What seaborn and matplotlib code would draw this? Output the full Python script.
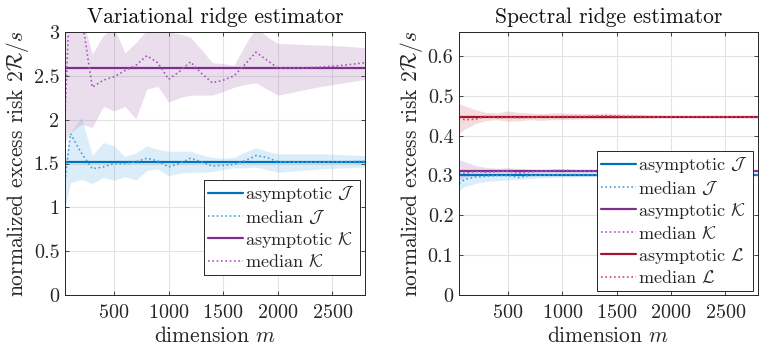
import numpy as np
import pandas as pd
import seaborn as sns
import matplotlib.pyplot as plt

# dimension grid
m = [50, 100, 200, 300, 400, 500, 600, 700, 800, 900, 1000, 1100, 1200, 1300, 1400,
     1500, 1600, 1700, 1800, 1900, 2000, 2200, 2400, 2600, 2800]

# ---- variational ridge estimator ----
var_asym_J = 1.515
var_asym_K = 2.59
var_med_J = [1.30, 1.84, 1.62, 1.44, 1.46, 1.50, 1.50, 1.52, 1.56, 1.53, 1.46, 1.50, 1.56, 1.52, 1.47,
             1.48, 1.49, 1.53, 1.59, 1.57, 1.52, 1.515, 1.515, 1.52, 1.525]
var_lo_J = [1.00, 1.28, 1.32, 1.27, 1.34, 1.31, 1.35, 1.31, 1.42, 1.44, 1.36, 1.39, 1.40, 1.40, 1.41,
            1.43, 1.45, 1.45, 1.46, 1.43, 1.40, 1.42, 1.44, 1.45, 1.46]
var_hi_J = [1.55, 1.85, 2.03, 1.59, 1.74, 1.70, 1.58, 1.62, 1.70, 1.66, 1.64, 1.64, 1.64, 1.60, 1.57,
            1.56, 1.57, 1.63, 1.68, 1.64, 1.61, 1.61, 1.61, 1.60, 1.59]
var_med_K = [2.05, 3.60, 3.20, 2.37, 2.45, 2.49, 2.56, 2.62, 2.73, 2.65, 2.46, 2.55, 2.66, 2.53, 2.42,
             2.45, 2.50, 2.63, 2.77, 2.68, 2.59, 2.59, 2.60, 2.62, 2.65]
var_lo_K = [1.75, 1.85, 1.95, 1.91, 2.15, 2.10, 2.15, 2.01, 2.35, 2.38, 2.20, 2.25, 2.28, 2.28, 2.28,
            2.32, 2.37, 2.40, 2.42, 2.35, 2.28, 2.33, 2.38, 2.42, 2.46]
var_hi_K = [3.40, 3.30, 3.20, 2.75, 2.96, 3.05, 2.76, 2.88, 3.02, 3.00, 3.00, 2.98, 2.94, 2.80, 2.65,
            2.64, 2.62, 2.85, 3.05, 2.95, 2.87, 2.86, 2.85, 2.84, 2.82]

# ---- spectral ridge estimator ----
spe_asym_J = 0.302
spe_asym_K = 0.311
spe_asym_L = 0.447
spe_med_J = [0.280, 0.290, 0.296, 0.298, 0.300, 0.300, 0.295, 0.300, 0.301, 0.301, 0.302, 0.302, 0.302, 0.302, 0.302,
             0.302, 0.302, 0.302, 0.302, 0.302, 0.302, 0.302, 0.302, 0.302, 0.302]
spe_lo_J = [0.262, 0.272, 0.280, 0.285, 0.287, 0.289, 0.290, 0.292, 0.294, 0.295, 0.296, 0.296, 0.297, 0.297, 0.297,
            0.298, 0.298, 0.298, 0.298, 0.299, 0.299, 0.299, 0.299, 0.300, 0.300]
spe_hi_J = [0.305, 0.305, 0.305, 0.303, 0.304, 0.305, 0.305, 0.305, 0.305, 0.305, 0.305, 0.305, 0.305, 0.305, 0.305,
            0.305, 0.305, 0.305, 0.305, 0.305, 0.305, 0.304, 0.304, 0.304, 0.304]
spe_med_K = [0.308, 0.305, 0.310, 0.308, 0.310, 0.311, 0.306, 0.309, 0.311, 0.312, 0.313, 0.312, 0.311, 0.311, 0.311,
             0.311, 0.311, 0.311, 0.311, 0.311, 0.311, 0.311, 0.311, 0.311, 0.311]
spe_lo_K = [0.290, 0.295, 0.300, 0.302, 0.303, 0.304, 0.303, 0.305, 0.305, 0.306, 0.306, 0.306, 0.307, 0.307, 0.307,
            0.307, 0.308, 0.308, 0.308, 0.308, 0.308, 0.308, 0.309, 0.309, 0.309]
spe_hi_K = [0.340, 0.335, 0.325, 0.320, 0.318, 0.320, 0.317, 0.316, 0.315, 0.316, 0.316, 0.315, 0.315, 0.315, 0.315,
            0.314, 0.314, 0.314, 0.314, 0.314, 0.313, 0.313, 0.313, 0.313, 0.313]
spe_med_L = [0.445, 0.440, 0.441, 0.449, 0.445, 0.446, 0.445, 0.446, 0.448, 0.447, 0.448, 0.448, 0.448, 0.449, 0.450,
             0.449, 0.448, 0.448, 0.447, 0.447, 0.447, 0.447, 0.447, 0.447, 0.446]
spe_lo_L = [0.405, 0.416, 0.430, 0.438, 0.440, 0.436, 0.437, 0.440, 0.438, 0.440, 0.440, 0.441, 0.442, 0.442, 0.442,
            0.443, 0.443, 0.444, 0.444, 0.445, 0.445, 0.445, 0.445, 0.445, 0.445]
spe_hi_L = [0.480, 0.475, 0.465, 0.458, 0.457, 0.462, 0.458, 0.457, 0.455, 0.457, 0.457, 0.456, 0.455, 0.455, 0.456,
            0.455, 0.454, 0.453, 0.452, 0.451, 0.450, 0.450, 0.449, 0.449, 0.449]

# MATLAB default colours
blue, purple, red = '#0072BD', '#7E2F8E', '#A2142F'
blue_med, purple_med, red_med = '#3BA3E0', '#A955BB', '#E0405A'

sns.set_theme(style='whitegrid')
plt.rcParams['font.family'] = ['cmr10', 'DejaVu Serif']
plt.rcParams['mathtext.fontset'] = 'cm'
plt.rcParams['axes.formatter.use_mathtext'] = True
plt.rcParams['axes.unicode_minus'] = False

fig = plt.figure(figsize=(7.66, 3.52), dpi=100)
ax1 = fig.add_axes([65 / 766, 57 / 352, 300 / 766, 263 / 352])
ax2 = fig.add_axes([459 / 766, 57 / 352, 299 / 766, 263 / 352])


def draw(ax, asym, med, lo, hi, col, col_med, col_fill, name):
    ax.fill_between(m, lo, hi, color=col_fill, alpha=0.2, linewidth=0)
    sns.lineplot(x=m, y=[asym] * len(m), ax=ax, color=col, lw=1.6,
                 label='asymptotic $\\mathcal{%s}$' % name)
    sns.lineplot(x=m, y=med, ax=ax, color=col_med, lw=1.2, linestyle=(0, (1, 1.6)),
                 label='median $\\mathcal{%s}$' % name)


draw(ax1, var_asym_J, var_med_J, var_lo_J, var_hi_J, blue, blue_med, '#4DA6DD', 'J')
draw(ax1, var_asym_K, var_med_K, var_lo_K, var_hi_K, purple, purple_med, '#9A5AA8', 'K')

draw(ax2, spe_asym_J, spe_med_J, spe_lo_J, spe_hi_J, blue, blue_med, '#4DA6DD', 'J')
draw(ax2, spe_asym_K, spe_med_K, spe_lo_K, spe_hi_K, purple, purple_med, '#9A5AA8', 'K')
draw(ax2, spe_asym_L, spe_med_L, spe_lo_L, spe_hi_L, red, red_med, '#C0505E', 'L')

ax1.set_ylim(0, 3)
ax1.set_yticks([0, 0.5, 1, 1.5, 2, 2.5, 3])
ax1.set_yticklabels(['0', '0.5', '1', '1.5', '2', '2.5', '3'])
ax2.set_ylim(0, 0.66)
ax2.set_yticks([0, 0.1, 0.2, 0.3, 0.4, 0.5, 0.6])
ax2.set_yticklabels(['0', '0.1', '0.2', '0.3', '0.4', '0.5', '0.6'])

for ax, title in [(ax1, 'Variational ridge estimator'), (ax2, 'Spectral ridge estimator')]:
    ax.set_xlim(50, 2800)
    ax.set_xticks([500, 1000, 1500, 2000, 2500])
    ax.set_title(title, fontsize=15.5, pad=6.5, color='#111111')
    ax.set_xlabel('dimension $m$', fontsize=15.5, labelpad=3, color='#262626')
    ax.set_ylabel('normalized excess risk $2\\mathcal{R}/s$', fontsize=15.5, labelpad=2, color='#262626')
    ax.grid(True, color='#e3e3e3', lw=0.8)
    ax.tick_params(axis='both', direction='in', length=3, width=0.6, color='#262626',
                   labelsize=14.5, labelcolor='#262626', top=True, right=True, bottom=True, left=True)
    ax.tick_params(axis='x', pad=6.5)
    ax.tick_params(axis='y', pad=4)
    for s in ax.spines.values():
        s.set_color('#262626')
        s.set_linewidth(0.7)
    ax.set_facecolor('white')

leg_kw = dict(loc='lower right', fontsize=13, frameon=True, fancybox=False,
              edgecolor='#262626', framealpha=1, handlelength=1.9, handletextpad=0.15,
              borderpad=0.25, labelspacing=0.22, borderaxespad=0)
l1 = ax1.legend(bbox_to_anchor=(360 / 766, 77 / 352), bbox_transform=fig.transFigure, **leg_kw)
l2 = ax2.legend(bbox_to_anchor=(753 / 766, 61 / 352), bbox_transform=fig.transFigure, **leg_kw)
for l in (l1, l2):
    l.get_frame().set_linewidth(0.7)

fig.savefig('out.png', dpi=100, facecolor='white')
